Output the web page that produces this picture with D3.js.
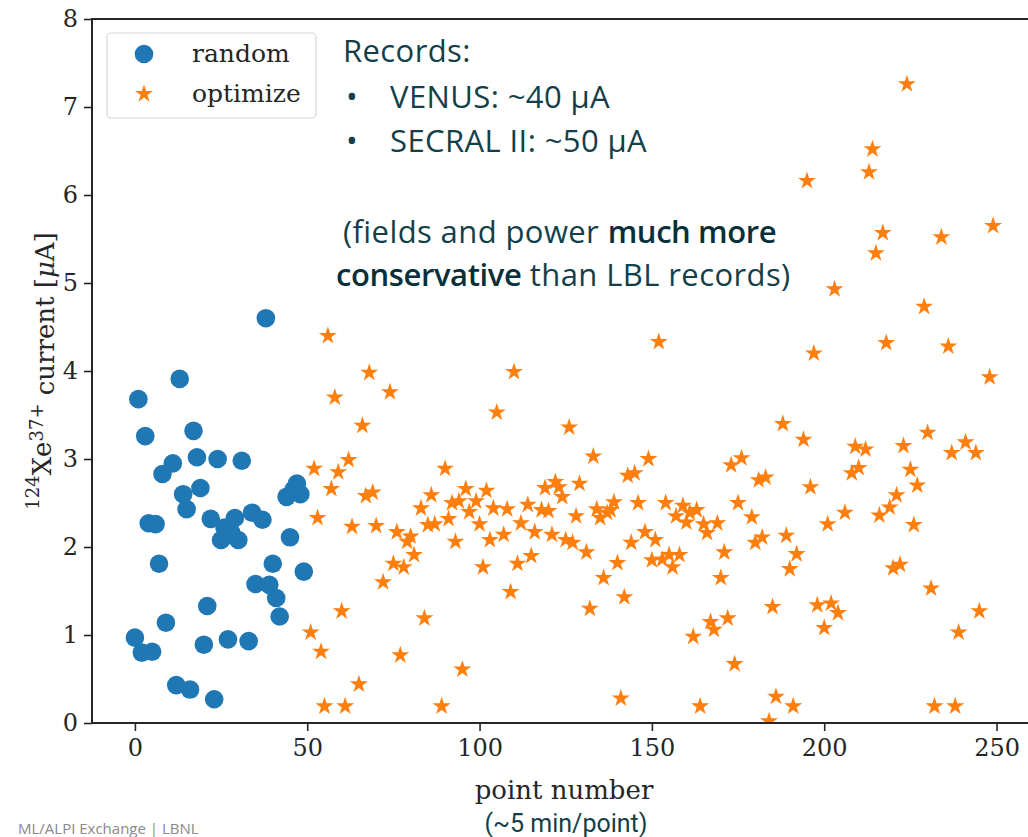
<!DOCTYPE html>
<html>
<head>
<meta charset="utf-8">
<script src="https://cdn.jsdelivr.net/npm/d3@7"></script>
<style>
  html, body { margin: 0; padding: 0; background: #fff; }
  svg { display: block; }
</style>
</head>
<body>
<svg id="chart" width="1028" height="837"></svg>
<script>
// Random-search points (point number, current in µA)
const randomX = [0,1,2,3,4,5,6,7,8,9,11,12,13,14,15,16,17,18,19,20,21,22,23,24,25,26,27,28,29,30,31,33,34,35,37,38,39,40,41,42,44,45,46,47,48,49];
const randomY = [0.97,3.68,0.80,3.26,2.27,0.81,2.26,1.81,2.83,1.14,2.95,0.43,3.91,2.60,2.43,0.38,3.32,3.02,2.67,0.89,1.33,2.32,0.27,3.00,2.08,2.22,0.95,2.16,2.33,2.08,2.98,0.93,2.39,1.58,2.31,4.60,1.57,1.81,1.42,1.21,2.57,2.11,2.65,2.72,2.60,1.72];

// Optimizer points
const optimizeX = [51,52,53,54,55,56,57,58,59,60,61,62,63,65,66,67,68,69,70,72,74,75,76,77,78,79,80,81,83,84,85,86,87,89,90,91,92,93,94,95,96,97,99,100,101,102,103,104,105,107,108,109,110,111,112,114,115,116,118,119,120,121,122,123,124,125,126,127,128,129,131,132,133,134,135,136,137,138,139,140,141,142,143,144,145,146,148,149,150,151,152,153,154,155,156,157,158,159,160,161,162,163,164,165,166,167,168,169,170,171,172,173,174,175,176,179,180,181,182,183,184,185,186,188,189,190,191,192,194,195,196,197,198,200,201,202,203,204,206,208,209,210,212,213,214,215,216,217,218,219,220,221,222,223,224,225,226,227,229,230,231,232,234,236,237,238,239,241,244,245,248,249];
const optimizeY = [1.03,2.89,2.33,0.81,0.19,4.40,2.66,3.70,2.85,1.27,0.19,2.99,2.23,0.44,3.38,2.58,3.98,2.62,2.24,1.60,3.76,1.81,2.17,0.77,1.77,2.06,2.12,1.91,2.44,1.19,2.25,2.59,2.26,0.19,2.89,2.32,2.50,2.06,2.52,0.61,2.66,2.40,2.52,2.26,1.77,2.64,2.08,2.44,3.53,2.14,2.43,1.49,3.99,1.81,2.27,2.48,1.90,2.17,2.42,2.67,2.41,2.14,2.74,2.68,2.57,2.08,3.36,2.05,2.35,2.72,1.94,1.30,3.03,2.43,2.33,1.65,2.39,2.42,2.51,1.82,0.28,1.43,2.81,2.05,2.84,2.50,2.17,3.00,1.85,2.08,4.33,1.86,2.50,1.91,1.77,2.35,1.91,2.47,2.28,2.39,0.98,2.42,0.19,2.26,2.16,1.15,1.06,2.27,1.65,1.94,1.19,2.93,0.67,2.50,3.01,2.34,2.05,2.76,2.11,2.79,0.02,1.32,0.30,3.40,2.13,1.75,0.19,1.92,3.22,6.16,2.68,4.20,1.34,1.08,2.26,1.36,4.93,1.25,2.39,2.84,3.14,2.90,3.11,6.26,6.52,5.34,2.36,5.57,4.32,2.45,1.76,2.59,1.80,3.15,7.26,2.88,2.25,2.70,4.73,3.30,1.53,0.19,5.52,4.28,3.07,0.19,1.03,3.19,3.07,1.27,3.93,5.65];

const xTicks = [0, 50, 100, 150, 200, 250];
const yTicks = [0, 1, 2, 3, 4, 5, 6, 7, 8];
const seriesNames = ["random", "optimize"];

const recordLines = ["Records:", "VENUS: ~40 μA", "SECRAL II: ~50 μA"];

const svg = d3.select("#chart");
const W = 1028, H = 837;
const plot = { left: 92, right: 1036, top: 19, bottom: 723 };

const x = d3.scaleLinear().domain([-12.45, 261.45]).range([plot.left, plot.right]);
const y = d3.scaleLinear().domain([0, 8]).range([plot.bottom, plot.top]);

const serif = "'DejaVu Serif', serif";
const axisColor = "#262626";
const blue = "#1f77b4", orange = "#ff7f0e";

svg.append("rect").attr("width", W).attr("height", H).attr("fill", "#fff");

svg.append("defs").append("clipPath").attr("id", "plotClip")
  .append("rect")
  .attr("x", plot.left).attr("y", plot.top)
  .attr("width", plot.right - plot.left).attr("height", plot.bottom - plot.top);

// Points
const pts = svg.append("g").attr("clip-path", "url(#plotClip)");
pts.selectAll("circle.rnd")
  .data(randomX.map((d, i) => [d, randomY[i]]))
  .join("circle")
  .attr("class", "rnd")
  .attr("cx", d => x(d[0]))
  .attr("cy", d => y(d[1]))
  .attr("r", 9.3)
  .attr("fill", blue);

const star = d3.symbol().type(d3.symbolStar).size(100);
pts.selectAll("path.opt")
  .data(optimizeX.map((d, i) => [d, optimizeY[i]]))
  .join("path")
  .attr("class", "opt")
  .attr("d", star)
  .attr("transform", d => `translate(${x(d[0])},${y(d[1])})`)
  .attr("fill", orange);

// Axes
const xAxis = svg.append("g")
  .attr("transform", `translate(0,${plot.bottom})`)
  .call(d3.axisBottom(x).tickValues(xTicks).tickSize(8).tickPadding(8));
const yAxis = svg.append("g")
  .attr("transform", `translate(${plot.left},0)`)
  .call(d3.axisLeft(y).tickValues(yTicks).tickSize(8).tickPadding(6));

[xAxis, yAxis].forEach(g => {
  g.select(".domain").remove();
  g.selectAll(".tick line").attr("stroke", axisColor).attr("stroke-width", 1.6);
  g.selectAll(".tick text")
    .attr("fill", axisColor)
    .style("font-family", serif)
    .style("font-size", "24px");
});

// Spines: left, bottom, top (the right edge runs past the window)
const spines = svg.append("g").attr("stroke", axisColor).attr("stroke-width", 2).attr("fill", "none");
spines.append("line").attr("x1", plot.left).attr("x2", plot.left).attr("y1", plot.top).attr("y2", plot.bottom + 1);
spines.append("line").attr("x1", plot.left - 1).attr("x2", W).attr("y1", plot.bottom).attr("y2", plot.bottom);
spines.append("line").attr("x1", plot.left - 1).attr("x2", W).attr("y1", plot.top).attr("y2", plot.top);

// Axis labels
svg.append("text")
  .attr("x", (plot.left + plot.right) / 2)
  .attr("y", 799)
  .attr("text-anchor", "middle")
  .attr("fill", axisColor)
  .style("font-family", serif)
  .style("font-size", "26px")
  .text("point number");

const yl = svg.append("text")
  .attr("transform", `translate(47,${(plot.top + plot.bottom) / 2}) rotate(-90)`)
  .attr("text-anchor", "middle")
  .attr("fill", axisColor)
  .style("font-family", serif)
  .style("font-size", "26px");
yl.append("tspan").attr("dy", "-0.45em").style("font-size", "18px").text("124");
yl.append("tspan").attr("dy", "0.45em").text("Xe");
yl.append("tspan").attr("dy", "-0.45em").style("font-size", "18px").text("37+");
yl.append("tspan").attr("dy", "0.45em").text(" current [");
yl.append("tspan").style("font-style", "italic").text("μ");
yl.append("tspan").text("A]");

// Legend
const lg = svg.append("g");
lg.append("rect")
  .attr("x", 107).attr("y", 33).attr("width", 209).attr("height", 85)
  .attr("rx", 4)
  .attr("fill", "#fff").attr("fill-opacity", 0.85)
  .attr("stroke", "#d6d6d6").attr("stroke-width", 1.2);
lg.append("circle").attr("cx", 144).attr("cy", 54).attr("r", 9.3).attr("fill", blue);
lg.append("path").attr("d", star).attr("transform", "translate(144,94)").attr("fill", orange);
lg.selectAll("text.lg")
  .data(seriesNames)
  .join("text")
  .attr("class", "lg")
  .attr("x", 192)
  .attr("y", (d, i) => 62 + i * 40)
  .attr("fill", axisColor)
  .style("font-family", serif)
  .style("font-size", "25px")
  .text(d => d);

// Notes
const teal = "#123f4a";
const notes = svg.append("g")
  .style("font-family", "'Open Sans', 'Noto Sans', sans-serif")
  .style("font-size", "31px")
  .style("letter-spacing", "0.4px")
  .attr("fill", teal);
notes.append("text").attr("x", 343).attr("y", 62).text(recordLines[0]);
[1, 2].forEach((k, i) => {
  notes.append("text").attr("x", 346).attr("y", 108 + i * 44).text("•");
  notes.append("text").attr("x", 390).attr("y", 108 + i * 44).text(recordLines[k]);
});
const n1 = notes.append("text").attr("x", 343).attr("y", 243);
n1.append("tspan").text("(fields and power ");
n1.append("tspan").attr("fill", "#06303a").style("font-weight", 600).style("letter-spacing", "-0.4px").text("much more");
const n2 = notes.append("text").attr("x", 336).attr("y", 286);
n2.append("tspan").attr("fill", "#06303a").style("font-weight", 600).style("letter-spacing", "-0.4px").text("conservative");
n2.append("tspan").text(" than LBL records)");

svg.append("text")
  .attr("x", 566).attr("y", 832)
  .attr("text-anchor", "middle")
  .attr("fill", teal)
  .style("font-family", "Roboto, sans-serif")
  .style("font-size", "25px")
  .text("(~5 min/point)");

svg.append("text")
  .attr("x", 18).attr("y", 834)
  .attr("fill", "#8a8a8a")
  .style("font-family", "'Open Sans', sans-serif")
  .style("font-size", "15px")
  .text("ML/ALPI Exchange | LBNL");
</script>
</body>
</html>
